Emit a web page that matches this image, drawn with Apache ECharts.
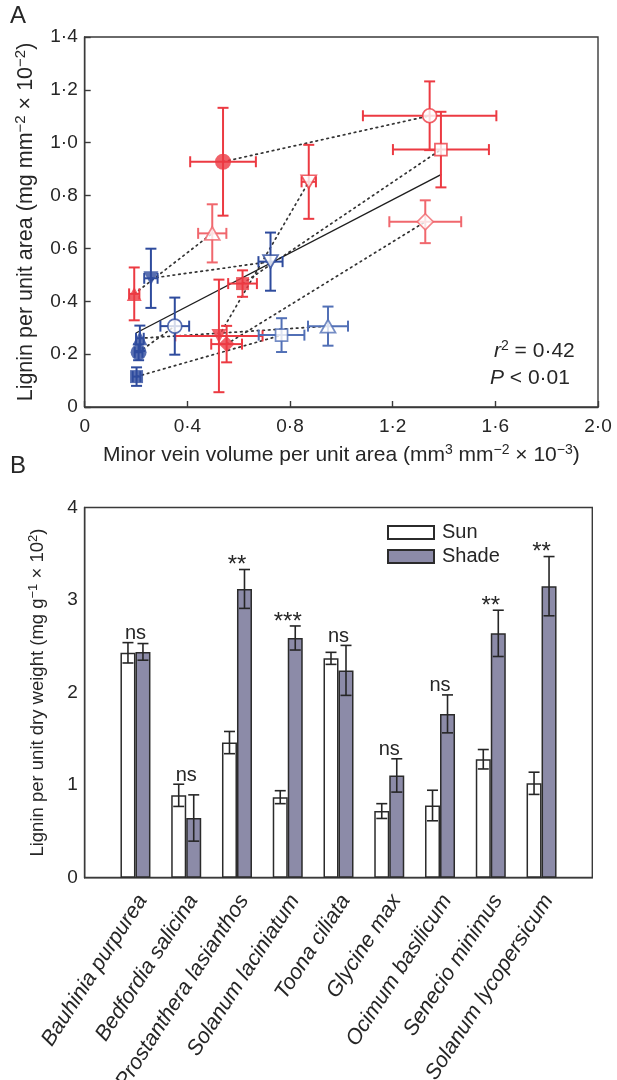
<!DOCTYPE html>
<html>
<head>
<meta charset="utf-8">
<script src="https://cdn.jsdelivr.net/npm/echarts@6/dist/echarts.min.js"></script>
<style>
  html, body { margin: 0; padding: 0; background: #fff; }
  #chart { width: 617px; height: 1080px; }
</style>
</head>
<body>
<div id="chart"></div>
<script>
// ---- Panel A: one entry per species pair (filled marker / open marker) ----
const pairSymbol = ['circle', 'rect', 'diamond', 'triangle', 'triangle', 'circle', 'rect', 'triangle', 'triangle'];
const pairFlip   = [false, false, false, false, true, false, false, false, true];
const pairGroup  = ['red', 'red', 'red', 'red', 'red', 'blue', 'blue', 'blue', 'blue'];
const openTint   = [false, false, true, true, false, false, true, true, false];

const fillX  = [0.539, 0.615, 0.553, 0.193, 0.523, 0.210, 0.202, 0.215, 0.258];
const fillY  = [0.928, 0.467, 0.238, 0.428, 0.269, 0.207, 0.115, 0.260, 0.487];
const fillXe = [0.128, 0.056, 0.060, 0.020, 0.170, 0.015, 0.015, 0.015, 0.026];
const fillYe = [0.204, 0.050, 0.069, 0.100, 0.213, 0.030, 0.035, 0.048, 0.112];

const openX  = [1.344, 1.388, 1.327, 0.497, 0.873, 0.351, 0.767, 0.948, 0.724];
const openY  = [1.102, 0.974, 0.701, 0.657, 0.852, 0.306, 0.272, 0.306, 0.550];
const openXe = [0.260, 0.187, 0.140, 0.055, 0.028, 0.056, 0.089, 0.078, 0.047];
const openYe = [0.130, 0.143, 0.081, 0.110, 0.140, 0.108, 0.064, 0.074, 0.110];

const fitX = [0.20, 1.39];
const fitY = [0.28, 0.88];

// ---- Panel B ----
const species = ['Bauhinia purpurea', 'Bedfordia salicina', 'Prostanthera lasianthos',
  'Solanum laciniatum', 'Toona ciliata', 'Glycine max', 'Ocimum basilicum',
  'Senecio minimus', 'Solanum lycopersicum'];
const sun      = [2.43, 0.89, 1.46, 0.87, 2.37, 0.72, 0.78, 1.28, 1.02];
const sunErr   = [0.11, 0.12, 0.12, 0.07, 0.065, 0.08, 0.165, 0.105, 0.12];
const shade    = [2.44, 0.645, 3.12, 2.59, 2.24, 1.105, 1.77, 2.64, 3.15];
const shadeErr = [0.09, 0.25, 0.21, 0.13, 0.27, 0.18, 0.205, 0.25, 0.32];
const signif   = ['ns', 'ns', '**', '***', 'ns', 'ns', 'ns', '**', '**'];

// ---- styles ----
const FONT = '"Liberation Sans", Arial, Helvetica, sans-serif';
const ink = '#262626';
const frame = '#3a3a3a';
const red = '#ec3a42', redLight = '#f0676d';
const blue = '#2e4b9d', blueLight = '#5270b6';
const shadeFill = '#8c8ba8';

const dec = v => (v === 0 ? '0' : v.toFixed(1).replace('.', '\u00b7'));
const fillColor = pairGroup.map(g => (g === 'red' ? red : blue));
const openColor = pairGroup.map((g, i) => g === 'red' ? (openTint[i] ? redLight : red) : (openTint[i] ? blueLight : blue));

function symSize(i, open) {
  const s = pairSymbol[i];
  if (s === 'circle') return open ? 14 : 16;
  if (s === 'rect') return open ? 12 : 13;
  if (s === 'diamond') return 16;
  return open ? [15, 13] : [15, 14];
}

const fillPts = fillX.map((x, i) => ({
  value: [x, fillY[i]], symbol: pairSymbol[i], symbolRotate: pairFlip[i] ? 180 : 0,
  symbolSize: symSize(i, false), itemStyle: { color: fillColor[i], borderColor: fillColor[i], borderWidth: 0 }
}));
const openPts = openX.map((x, i) => ({
  value: [x, openY[i]], symbol: pairSymbol[i], symbolRotate: pairFlip[i] ? 180 : 0,
  symbolSize: symSize(i, true), itemStyle: { color: '#fff', borderColor: openColor[i], borderWidth: 1.7 }
}));

// error bars with caps (panel A)
function errA(colors) {
  return function (params, api) {
    const x = api.value(0), y = api.value(1), xe = api.value(2), ye = api.value(3);
    const c = colors[params.dataIndex];
    const st = { stroke: c, lineWidth: 2 };
    const cap = 5.5;
    const l = api.coord([x - xe, y]), r = api.coord([x + xe, y]);
    const t = api.coord([x, y + ye]), b = api.coord([x, y - ye]);
    return {
      type: 'group', children: [
        { type: 'line', shape: { x1: l[0], y1: l[1], x2: r[0], y2: r[1] }, style: st },
        { type: 'line', shape: { x1: l[0], y1: l[1] - cap, x2: l[0], y2: l[1] + cap }, style: st },
        { type: 'line', shape: { x1: r[0], y1: r[1] - cap, x2: r[0], y2: r[1] + cap }, style: st },
        { type: 'line', shape: { x1: t[0], y1: t[1], x2: b[0], y2: b[1] }, style: st },
        { type: 'line', shape: { x1: t[0] - cap, y1: t[1], x2: t[0] + cap, y2: t[1] }, style: st },
        { type: 'line', shape: { x1: b[0] - cap, y1: b[1], x2: b[0] + cap, y2: b[1] }, style: st }
      ]
    };
  };
}

// error bars for panel B (offset = horizontal pixel shift from the category tick)
function errB(offset) {
  return function (params, api) {
    const i = api.value(0), v = api.value(1), e = api.value(2);
    const t = api.coord([i, v + e]), b = api.coord([i, v - e]);
    const x = t[0] + offset, cap = 5.5;
    const st = { stroke: ink, lineWidth: 1.6 };
    return {
      type: 'group', children: [
        { type: 'line', shape: { x1: x, y1: t[1], x2: x, y2: b[1] }, style: st },
        { type: 'line', shape: { x1: x - cap, y1: t[1], x2: x + cap, y2: t[1] }, style: st },
        { type: 'line', shape: { x1: x - cap, y1: b[1], x2: x + cap, y2: b[1] }, style: st }
      ]
    };
  };
}

const catsPadded = [''].concat(species, [' ']);
const pad = arr => ['-'].concat(arr, ['-']);

function titleStyle(size) {
  return {
    fontSize: size, fontFamily: FONT, color: ink, lineHeight: Math.round(size * 1.2),
    rich: { s: { fontSize: Math.round(size * 0.68), verticalAlign: 'top', fontFamily: FONT, color: ink } }
  };
}

const chart = echarts.init(document.getElementById('chart'));
chart.setOption({
  animation: false,
  textStyle: { fontFamily: FONT, color: ink },
  grid: [
    { left: 84.7, right: 19, top: 37, bottom: 673, show: true, borderColor: frame, borderWidth: 1.4 },
    { left: 84.7, right: 24.7, top: 507.5, bottom: 202.3, show: true, borderColor: frame, borderWidth: 1.4 }
  ],
  legend: {
    data: ['Sun', 'Shade'], orient: 'vertical', left: 387, top: 522.5, icon: 'rect', padding: 0,
    itemWidth: 46, itemHeight: 13, itemGap: 4, selectedMode: false,
    textStyle: { fontSize: 20, lineHeight: 20, color: ink, padding: [0, 0, 0, 3] }
  },
  xAxis: [
    {
      type: 'value', gridIndex: 0, min: 0, max: 2, interval: 0.4,
      axisLine: { show: true, lineStyle: { color: frame, width: 1.4 } },
      axisTick: { inside: true, length: 6, lineStyle: { color: frame, width: 1.4 } },
      axisLabel: { fontSize: 19, color: ink, margin: 10, formatter: dec },
      splitLine: { show: false },
      name: 'Minor vein volume per unit area (mm{s|3} mm{s|\u22122} \u00d7 10{s|\u22123})',
      nameLocation: 'middle', nameGap: 36,
      nameTextStyle: titleStyle(21)
    },
    {
      type: 'category', gridIndex: 1, data: catsPadded, boundaryGap: false,
      axisLine: { show: true, lineStyle: { color: frame, width: 1.4 } },
      axisTick: { show: false }, axisLabel: { show: false }
    }
  ],
  yAxis: [
    {
      type: 'value', gridIndex: 0, min: 0, max: 1.4, interval: 0.2,
      axisLine: { show: true, lineStyle: { color: frame, width: 1.4 } },
      axisTick: { inside: true, length: 6, lineStyle: { color: frame, width: 1.4 } },
      axisLabel: { fontSize: 19, color: ink, margin: 7, formatter: dec },
      splitLine: { show: false },
      name: 'Lignin per unit area (mg mm{s|\u22122} \u00d7 10{s|\u22122})',
      nameLocation: 'middle', nameGap: 37, nameRotate: 90,
      nameTextStyle: titleStyle(21.5)
    },
    {
      type: 'value', gridIndex: 1, min: 0, max: 4, interval: 1,
      axisLine: { show: true, lineStyle: { color: frame, width: 1.4 } },
      axisTick: { inside: true, length: 6, lineStyle: { color: frame, width: 1.4 } },
      axisLabel: { fontSize: 19, color: ink, margin: 7 },
      splitLine: { show: false },
      name: 'Lignin per unit dry weight (mg g{s|\u22121} \u00d7 10{s|2})',
      nameLocation: 'middle', nameGap: 36, nameRotate: 90,
      nameTextStyle: titleStyle(18.5)
    }
  ],
  graphic: [
    { type: 'text', left: 10, top: 4, style: { text: 'A', font: '24px ' + FONT, fill: ink } },
    { type: 'text', left: 10, top: 454, style: { text: 'B', font: '24px ' + FONT, fill: ink } },
    {
      type: 'text', left: 494, top: 339,
      style: {
        text: '{i|r}{s|2}{n| = 0\u00b742}', fill: ink,
        rich: {
          i: { fontSize: 21, fontStyle: 'italic', fontFamily: FONT, lineHeight: 24, fill: ink },
          s: { fontSize: 14, verticalAlign: 'top', fontFamily: FONT, fill: ink },
          n: { fontSize: 21, fontFamily: FONT, lineHeight: 24, fill: ink }
        }
      }
    },
    {
      type: 'text', left: 490, top: 368,
      style: {
        text: '{i|P}{n| < 0\u00b701}', fill: ink,
        rich: {
          i: { fontSize: 21, fontStyle: 'italic', fontFamily: FONT, lineHeight: 24, fill: ink },
          n: { fontSize: 21, fontFamily: FONT, lineHeight: 24, fill: ink }
        }
      }
    }
  ],
  series: [
    // dotted lines joining the two growth conditions of each species
    {
      type: 'custom', xAxisIndex: 0, yAxisIndex: 0, z: 1, silent: true,
      data: fillX.map((x, i) => [x, fillY[i], openX[i], openY[i]]),
      renderItem: (params, api) => {
        const a = api.coord([api.value(0), api.value(1)]);
        const b = api.coord([api.value(2), api.value(3)]);
        return {
          type: 'line', shape: { x1: a[0], y1: a[1], x2: b[0], y2: b[1] },
          style: { stroke: '#333', lineWidth: 1.7, lineDash: [1.6, 4], lineCap: 'round' }
        };
      }
    },
    {
      type: 'line', xAxisIndex: 0, yAxisIndex: 0, z: 2, silent: true, symbol: 'none',
      data: fitX.map((x, i) => [x, fitY[i]]),
      lineStyle: { color: '#1e1e1e', width: 1.4 }
    },
    {
      type: 'custom', xAxisIndex: 0, yAxisIndex: 0, z: 3, silent: true,
      data: fillX.map((x, i) => [x, fillY[i], fillXe[i], fillYe[i]]),
      renderItem: errA(fillColor)
    },
    {
      type: 'custom', xAxisIndex: 0, yAxisIndex: 0, z: 3, silent: true,
      data: openX.map((x, i) => [x, openY[i], openXe[i], openYe[i]]),
      renderItem: errA(openColor)
    },
    { type: 'scatter', xAxisIndex: 0, yAxisIndex: 0, z: 4, silent: true, data: fillPts },
    { type: 'scatter', xAxisIndex: 0, yAxisIndex: 0, z: 5, silent: true, data: openPts },

    // panel B bars
    {
      name: 'Sun', type: 'bar', xAxisIndex: 1, yAxisIndex: 1, barWidth: 15, barGap: '0%',
      data: pad(sun), itemStyle: { color: '#fff', borderColor: '#2b2b2b', borderWidth: 1.5 }
    },
    {
      name: 'Shade', type: 'bar', xAxisIndex: 1, yAxisIndex: 1, barWidth: 15, barGap: '0%',
      data: pad(shade), itemStyle: { color: shadeFill, borderColor: '#2b2b2b', borderWidth: 1.5 }
    },
    {
      type: 'custom', xAxisIndex: 1, yAxisIndex: 1, z: 5, silent: true,
      data: sun.map((v, i) => [i + 1, v, sunErr[i]]), renderItem: errB(-7.5)
    },
    {
      type: 'custom', xAxisIndex: 1, yAxisIndex: 1, z: 5, silent: true,
      data: shade.map((v, i) => [i + 1, v, shadeErr[i]]), renderItem: errB(7.5)
    },
    {
      type: 'custom', xAxisIndex: 1, yAxisIndex: 1, z: 6, silent: true,
      data: sun.map((v, i) => [i + 1, Math.max(v + sunErr[i], shade[i] + shadeErr[i])]),
      renderItem: (params, api) => {
        const p = api.coord([api.value(0), api.value(1)]);
        const lab = signif[params.dataIndex];
        const ns = lab === 'ns';
        return {
          type: 'text', x: p[0], y: p[1] + (ns ? 1 : 8),
          style: { text: lab, fill: ink, font: (ns ? '20px ' : '24px ') + FONT, align: 'center', verticalAlign: 'bottom' }
        };
      }
    },
    // slanted species names under panel B
    {
      type: 'custom', xAxisIndex: 1, yAxisIndex: 1, z: 6, silent: true, clip: false,
      data: species.map((s, i) => [i + 1, 0]),
      renderItem: (params, api) => {
        const p = api.coord([api.value(0), 0]);
        return {
          type: 'text', x: p[0] + 7, y: p[1] + 19, rotation: 57 * Math.PI / 180,
          style: {
            text: species[params.dataIndex], fill: ink, font: 'italic 21.5px ' + FONT,
            align: 'right', verticalAlign: 'middle'
          }
        };
      }
    }
  ]
});
</script>
</body>
</html>
